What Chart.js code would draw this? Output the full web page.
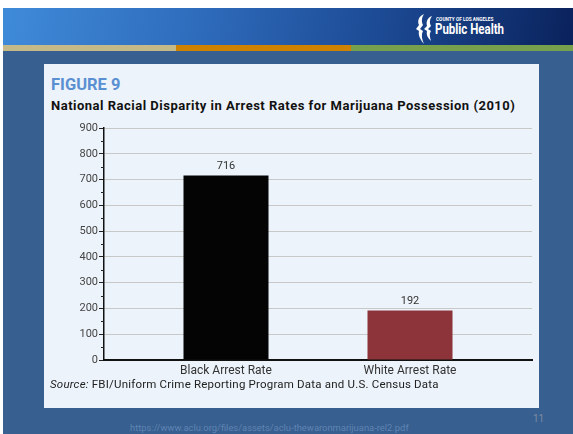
<!DOCTYPE html>
<html>
<head>
<meta charset="utf-8">
<script src="https://cdn.jsdelivr.net/npm/chart.js@4"></script>
<style>
  html, body { margin: 0; padding: 0; }
  body { width: 573px; height: 434px; position: relative; background: #fff; overflow: hidden; font-family: Roboto, 'Liberation Sans', sans-serif; }
  .slide { position: absolute; left: 3px; top: 8px; width: 570px; height: 426px; background: #375f8f; }
  .header { position: absolute; left: 3px; top: 8px; width: 570px; height: 37px;
    background: linear-gradient(100deg, #3f8bd9 0%, #2e6bbb 35%, #1b4891 68%, #0a225c 100%); }
  .stripe { position: absolute; top: 45px; height: 6px; }
  .logo-top { position: absolute; left: 436px; top: 16px; color: #fff; font-size: 5px; font-weight: bold; transform-origin: left top; transform: scaleX(0.95); }
  .logo-main { position: absolute; left: 435px; top: 21px; color: #fff; font-size: 14px; font-weight: bold; transform-origin: left top; transform: scaleX(0.82); }
  .logo-icon { position: absolute; left: 415px; top: 13px; }
  .panel { position: absolute; left: 44px; top: 64px; width: 495px; height: 344px; background: #edf3fa; }
  .fig { position: absolute; left: 51px; top: 75px; color: #5a90d2; font-size: 16.5px; font-weight: bold; }
  .title { position: absolute; left: 51px; top: 98px; color: #111; font-size: 13px; letter-spacing: 0.5px; font-weight: bold; white-space: nowrap; }
  .source { position: absolute; left: 50px; top: 377px; color: #222; font-size: 11.5px; letter-spacing: 0.2px; white-space: nowrap; }
  .url { position: absolute; left: 130px; top: 422px; color: #5f84b3; font-size: 9.4px; white-space: nowrap; }
  .page { position: absolute; left: 533px; top: 413px; color: #7b8ca3; font-size: 10px; }
  #chart { position: absolute; left: 44px; top: 118px; }
</style>
</head>
<body>
<div class="slide"></div>
<div class="header"></div>
<div class="stripe" style="left:3px;width:173px;background:#c5b988"></div>
<div class="stripe" style="left:176px;width:175px;background:#cf8100"></div>
<div class="stripe" style="left:351px;width:222px;background:#77a04c"></div>
<svg class="logo-icon" width="20" height="32" viewBox="0 0 20 32">
  <path d="M9 1 C4 3 2 8 4 12 L1 16 L4 18 C3 22 5 26 9 31 C7 26 6 22 8 18 L5 16 L8 12 C6 8 7 4 9 1 Z" fill="#fff"/>
  <path d="M17 3 C12 5 11 9 12 13 L9 16 L12 18 C11 22 13 25 16 28 C15 24 14 21 16 18 L13 16 L16 13 C14 9 15 6 17 3 Z" fill="#fff"/>
</svg>
<div class="logo-top">COUNTY OF LOS ANGELES</div>
<div class="logo-main">Public Health</div>

<div class="panel"></div>
<div class="fig">FIGURE 9</div>
<div class="title">National Racial Disparity in Arrest Rates for Marijuana Possession (2010)</div>
<canvas id="chart" width="495" height="262"></canvas>
<div class="source"><i>Source:</i> FBI/Uniform Crime Reporting Program Data and U.S. Census Data</div>
<div class="url">https://www.aclu.org/files/assets/aclu-thewaronmarijuana-rel2.pdf</div>
<div class="page">11</div>

<script>
// arrests per 100,000 residents, 2010
const categories = ['Black Arrest Rate', 'White Arrest Rate'];
const arrestRates = [716, 192];
const barColors = ['#040404', '#8c343a'];
const yMax = 900;
const yStep = 100;
const minorStep = 50;

// little ticks between the labelled ones on the value axis
const minorTicks = {
  id: 'minorTicks',
  afterDraw(chart) {
    const y = chart.scales.y;
    const ctx = chart.ctx;
    ctx.save();
    ctx.strokeStyle = '#222';
    ctx.lineWidth = 1;
    for (let v = minorStep; v < yMax; v += yStep) {
      const py = Math.round(y.getPixelForValue(v)) + 0.5;
      ctx.beginPath();
      ctx.moveTo(y.right - 3, py);
      ctx.lineTo(y.right, py);
      ctx.stroke();
    }
    ctx.restore();
  }
};

// value printed above each bar
const barValues = {
  id: 'barValues',
  afterDatasetsDraw(chart) {
    const ctx = chart.ctx;
    const meta = chart.getDatasetMeta(0);
    ctx.save();
    ctx.font = '11px Roboto, sans-serif';
    ctx.fillStyle = '#333';
    ctx.textAlign = 'center';
    ctx.textBaseline = 'bottom';
    meta.data.forEach((bar, i) => {
      ctx.fillText(arrestRates[i], bar.x, bar.y - 4);
    });
    ctx.restore();
  }
};

new Chart(document.getElementById('chart'), {
  type: 'bar',
  data: {
    datasets: [{
      data: arrestRates.map((v, i) => ({ x: i, y: v })),
      backgroundColor: barColors,
      borderWidth: 0,
      categoryPercentage: 1,
      barPercentage: 0.462,
    }],
  },
  options: {
    responsive: false,
    animation: false,
    layout: { padding: { top: 10, right: 7, left: 0, bottom: 0 } },
    plugins: { legend: { display: false }, tooltip: { enabled: false } },
    scales: {
      x: {
        type: 'linear',
        offset: false,
        bounds: 'data',
        min: -0.663,
        max: 1.663,
        afterBuildTicks: (scale) => {
          scale.ticks = categories.map((c, i) => ({ value: i }));
        },
        afterFit: (scale) => { scale.height = 20; },
        grid: { drawOnChartArea: false, drawTicks: false },
        border: { display: true, color: '#111', width: 2 },
        ticks: {
          padding: 4,
          color: '#333',
          font: { family: 'Roboto', size: 12 },
          callback: (v) => categories[v],
        },
      },
      y: {
        min: 0,
        max: yMax,
        afterFit: (scale) => { scale.width = 60; },
        grid: {
          color: (c) => (c.tick && c.tick.value === 0 ? 'transparent' : '#c8c8c8'),
          tickColor: '#222',
          tickLength: 5,
          lineWidth: 1,
        },
        border: { display: true, color: '#111', width: 1.5 },
        ticks: {
          stepSize: yStep,
          padding: 1,
          color: '#444',
          font: { family: 'Roboto', size: 11 },
        },
      },
    },
  },
  plugins: [minorTicks, barValues],
});
</script>
</body>
</html>
